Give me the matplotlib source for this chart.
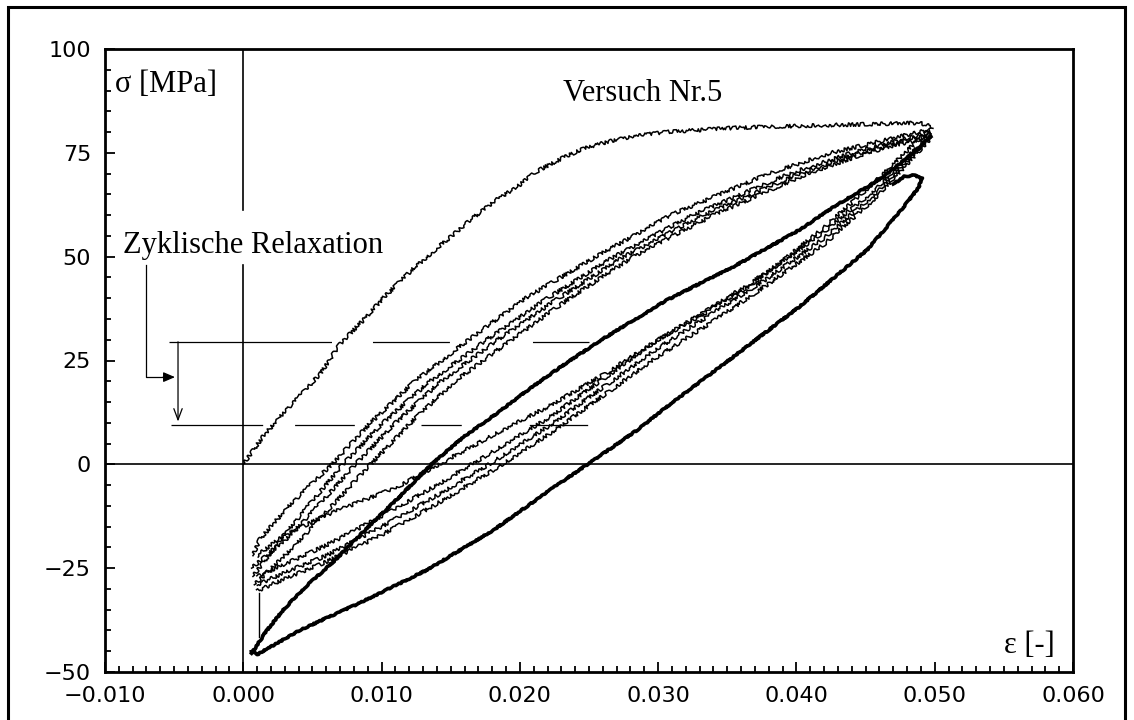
import matplotlib.pyplot as plt
from matplotlib.patches import Rectangle
from matplotlib.ticker import MultipleLocator, FuncFormatter

plt.rcParams["lines.scale_dashes"] = False

# ---- data (strain eps [-], stress sigma [MPa]) ----
# first loading curve
eps_initial = [0.0, 0.0014, 0.0029, 0.0043, 0.0056, 0.0070, 0.0087, 0.0101, 0.0121,
               0.0135, 0.0150, 0.0164, 0.0183, 0.0198, 0.0212, 0.0231, 0.0246,
               0.0265, 0.0282, 0.0306, 0.0354, 0.0403, 0.0451, 0.0489, 0.0499]
sig_initial = [0.0, 6.6, 12.4, 17.2, 22.0, 29.0, 34.8, 40.0, 46.5,
               50.6, 54.8, 58.8, 63.7, 66.8, 70.5, 73.8, 76.0,
               77.8, 79.0, 80.0, 81.0, 81.5, 81.9, 82.2, 81.2]

# reloading branches of the following cycles (thin bundle, upper left)
sig_reload_a = [-22, -18, -10, 0, 10, 20, 30, 40, 50, 60, 70, 75, 80.5]
eps_reload_a = [0.0007, 0.0012, 0.0033, 0.0064, 0.0092, 0.0124, 0.0163, 0.0204,
                0.0255, 0.0309, 0.0380, 0.0425, 0.0495]
sig_reload_b = [-27, -18, -10, 0, 10, 20, 30, 40, 50, 60, 70, 75, 80]
eps_reload_b = [0.0007, 0.0027, 0.0047, 0.0072, 0.0101, 0.0135, 0.0176, 0.0220,
                0.0268, 0.0325, 0.0395, 0.0440, 0.0497]
sig_reload_c = [-25, -18, -10, 0, 10, 20, 30, 40, 50, 60, 70, 75, 79.5]
eps_reload_c = [0.0006, 0.0031, 0.0054, 0.0081, 0.0110, 0.0143, 0.0184, 0.0228,
                0.0275, 0.0333, 0.0402, 0.0446, 0.0497]
sig_reload_d = [-29, -20, -10, 0, 10, 20, 30, 40, 50, 60, 70, 75, 79]
eps_reload_d = [0.0008, 0.0036, 0.0064, 0.0092, 0.0121, 0.0153, 0.0194, 0.0236,
                0.0282, 0.0340, 0.0408, 0.0451, 0.0497]

# unloading branches (thin bundle below the thick loading line)
eps_unload = [0.0497, 0.046, 0.042, 0.038, 0.034, 0.030, 0.026, 0.022, 0.018,
              0.014, 0.010, 0.006, 0.003, 0.001]
sig_unload_a = [79.5, 67, 56, 46.5, 38, 30, 20.5, 11, 3, -5, -12.5, -19.5, -24, -27]
sig_unload_b = [79, 66, 54.5, 45, 36.5, 28, 18.5, 9, 0.5, -7.5, -15, -22, -26, -29]
sig_unload_c = [78.5, 65, 53, 43.5, 34.5, 26, 16.5, 7, -1.5, -9.5, -17, -23.5, -27.5, -30.5]
# first unloading (slightly above the bundle)
eps_unload_first = [0.0497, 0.046, 0.042, 0.039, 0.0366, 0.0337, 0.030, 0.026, 0.022,
                    0.0183, 0.0147, 0.0111, 0.0063, 0.0027, 0.001]
sig_unload_first = [81, 69, 57, 49, 43, 37, 30, 21.5, 13.8, 7.5, 1, -5.5, -11.8, -17.5, -22]

# late cycles after relaxation (thick lines)
eps_late_load = [0.0006, 0.0017, 0.0029, 0.0045, 0.0065, 0.0089, 0.0113, 0.0136,
                 0.0159, 0.0183, 0.0207, 0.0231, 0.0259, 0.0306, 0.0354, 0.0402,
                 0.0427, 0.0463, 0.0487, 0.0497]
sig_late_load = [-45.5, -40, -35, -29.5, -23.5, -15.5, -7.8, 0,
                 6.5, 12.2, 18.2, 23.8, 30, 39.5, 47.5, 56.4,
                 62, 69.2, 75.7, 79]
eps_late_unload = [0.0470, 0.0478, 0.0485, 0.0491, 0.0488, 0.0480, 0.0468, 0.0451,
                   0.0402, 0.0354, 0.0306, 0.0285, 0.0249, 0.0229, 0.0181, 0.0133,
                   0.0084, 0.0041, 0.0010, 0.0006]
sig_late_unload = [67.5, 69.3, 69.6, 68.8, 66.5, 63, 58.2, 51.6,
                   37.9, 25.8, 13.8, 8.3, 0, -4.5, -15.8, -25.4,
                   -33.4, -39.9, -45.8, -45]
# step at the lower strain limit
eps_step = [0.00116, 0.00116]
sig_step = [-31, -41.6]

# annotation: relaxation of the mean stress
sig_mean_before = 29.5
sig_mean_after = 9.5

fig = plt.figure(figsize=(11.34, 7.2), dpi=100)
ax = fig.add_axes([105 / 1134, 48 / 720, 968 / 1134, 623 / 720])

thin = dict(color="black", lw=1.1)
thick = dict(color="black", lw=2.6)

lines = []
lines += ax.plot(eps_initial, sig_initial, **thin)
for e, s in [(eps_reload_a, sig_reload_a), (eps_reload_b, sig_reload_b),
             (eps_reload_c, sig_reload_c), (eps_reload_d, sig_reload_d)]:
    lines += ax.plot(e, s, **thin)
for s in [sig_unload_a, sig_unload_b, sig_unload_c]:
    lines += ax.plot(eps_unload, s, **thin)
lines += ax.plot(eps_unload_first, sig_unload_first, **thin)
# measured signal is noisy -> jagged rendering
for ln in lines:
    ln.set_sketch_params(1.8, 6, 10)

thick_lines = []
thick_lines += ax.plot(eps_late_load, sig_late_load, **thick)
thick_lines += ax.plot(eps_late_unload, sig_late_unload, **thick)
for ln in thick_lines:
    ln.set_sketch_params(0.6, 5, 8)
ax.plot(eps_step, sig_step, color="black", lw=1.0)

# coordinate cross
ax.axhline(0, color="black", lw=1.2, zorder=1)
ax.plot([0, 0], [100, 61.2], color="black", lw=1.2)
ax.plot([0, 0], [48.1, -50], color="black", lw=1.2)

# dashed mean stress lines (dash lengths in points)
l1, = ax.plot([-0.0054, 0.025], [sig_mean_before] * 2, color="black", lw=0.9)
l1.set_dashes([117, 29.5, 55.4, 59.8, 41, 100])
l2, = ax.plot([-0.0052, 0.025], [sig_mean_after] * 2, color="black", lw=0.9)
l2.set_dashes([66, 23, 43, 48, 29, 49, 42, 100])

# bracket from the label to the arrow
ax.plot([-0.00704, -0.00704, -0.0057], [48.1, 21.0, 21.0], color="black", lw=0.9)
ax.annotate("", xy=(-0.00494, 21.0), xytext=(-0.0058, 21.0),
            arrowprops=dict(arrowstyle="-|>,head_length=0.7,head_width=0.3",
                            color="black", lw=0.9, shrinkA=0, shrinkB=0))
ax.annotate("", xy=(-0.00472, sig_mean_after + 0.8), xytext=(-0.00472, sig_mean_before),
            arrowprops=dict(arrowstyle="->,head_length=0.8,head_width=0.3",
                            color="black", lw=0.9, shrinkA=0, shrinkB=0))

serif = dict(family="Liberation Serif", size=22, color="black")
ax.text(-0.00928, 89.7, "σ [MPa]", ha="left", va="baseline", **serif)
ax.text(0.0289, 87.5, "Versuch Nr.5", ha="center", va="baseline", **serif)
ax.text(-0.0087, 50.9, "Zyklische Relaxation", ha="left", va="baseline", **serif)
ax.text(0.0587, -45.4, "ε [-]", ha="right", va="baseline", **serif)

ax.set_xlim(-0.010, 0.060)
ax.set_ylim(-50, 100)
ax.xaxis.set_major_locator(MultipleLocator(0.010))
ax.xaxis.set_minor_locator(MultipleLocator(0.001))
ax.yaxis.set_major_locator(MultipleLocator(25))
ax.yaxis.set_minor_locator(MultipleLocator(5))
ax.xaxis.set_major_formatter(FuncFormatter(lambda v, p: f"{v:.3f}".replace("-", "\u2212")))
ax.yaxis.set_major_formatter(FuncFormatter(lambda v, p: f"{v:.0f}".replace("-", "\u2212")))
ax.tick_params(which="both", direction="in", top=False, right=False, width=1.3,
               labelsize=16, pad=10)
ax.tick_params(which="major", length=7)
ax.tick_params(which="minor", length=4)
for lab in ax.get_xticklabels() + ax.get_yticklabels():
    lab.set_family("DejaVu Sans")
for sp in ax.spines.values():
    sp.set_linewidth(2.0)

# outer frame around the whole picture
fig.patches.append(Rectangle((8 / 1134, -0.02), 1117 / 1134, 713 / 720 + 0.02,
                             transform=fig.transFigure, fill=False,
                             edgecolor="black", lw=2.2))

fig.savefig("out.png", dpi=100)
